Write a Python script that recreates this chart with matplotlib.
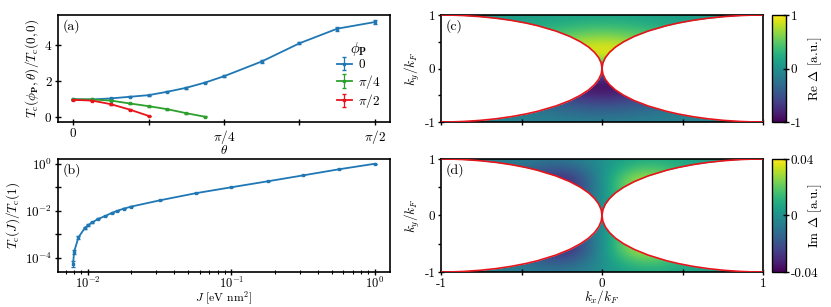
import numpy as np
import matplotlib
matplotlib.use("Agg")
import matplotlib.pyplot as plt
from matplotlib.ticker import NullLocator, LogLocator

plt.rcParams['font.family'] = 'cmr10'
plt.rcParams['mathtext.fontset'] = 'cm'
plt.rcParams['axes.unicode_minus'] = False
plt.rcParams['axes.formatter.use_mathtext'] = True
plt.rcParams['font.size'] = 9.5
plt.rcParams['axes.labelsize'] = 9.5
plt.rcParams['axes.linewidth'] = 1.2

# ---- panel (a): Tc vs theta ----
theta_0 = np.pi * np.array([0, 1, 2, 3, 4, 5, 6, 7, 8, 10, 12, 14, 16]) / 32
tc_0 = [1.0, 0.99, 1.05, 1.14, 1.23, 1.42, 1.64, 1.93, 2.28, 3.10, 4.11, 4.92, 5.29]
err_0 = [0.02, 0.02, 0.03, 0.03, 0.03, 0.04, 0.04, 0.05, 0.06, 0.08, 0.06, 0.1, 0.12]
theta_4 = np.pi * np.array([0, 1, 2, 3, 4, 5, 6, 7]) / 32
tc_4 = [1.0, 0.99, 0.93, 0.77, 0.62, 0.45, 0.23, 0.03]
err_4 = [0.02, 0.02, 0.02, 0.02, 0.02, 0.02, 0.02, 0.02]
theta_2 = np.pi * np.array([0, 1, 2, 3, 4]) / 32
tc_2 = [0.97, 0.93, 0.73, 0.43, 0.08]
err_2 = [0.02, 0.02, 0.02, 0.02, 0.02]

# ---- panel (b): Tc vs J ----
J = [0.00787, 0.0080, 0.00858, 0.00953, 0.0100, 0.0107, 0.0118, 0.0132, 0.0146,
     0.0160, 0.0178, 0.0200, 0.0319, 0.0566, 0.100, 0.180, 0.316, 0.560, 1.0]
tc_J = [5.6e-5, 1.8e-4, 7.4e-4, 1.9e-3, 2.4e-3, 3.2e-3, 4.5e-3, 6.0e-3, 8.0e-3,
        1.0e-2, 1.23e-2, 1.5e-2, 2.8e-2, 5.6e-2, 0.1, 0.18, 0.32, 0.58, 1.0]
err_J = [1.5e-5, 4e-5, 1e-4, 2e-4, 2e-4, 2e-4, 2e-4, 2e-4, 2e-4,
         2e-4, 3e-4, 3e-4, 4e-4, 6e-4, 1e-3, 2e-3, 3e-3, 5e-3, 8e-3]

# ---- panels (c), (d): gap on a coarse k grid ----
kx_grid = [-1, -0.75, -0.5, -0.25, 0, 0.25, 0.5, 0.75, 1]
ky_grid = [1, 0.8, 0.6, 0.4, 0.2, 0, -0.2, -0.4, -0.6, -0.8, -1]
re_gap = np.array([
    [0.08, 0.09, 0.10, 0.13, 0.16, 0.13, 0.10, 0.09, 0.08],
    [0.10, 0.12, 0.18, 0.28, 0.38, 0.28, 0.18, 0.12, 0.10],
    [0.13, 0.18, 0.30, 0.52, 0.68, 0.52, 0.30, 0.18, 0.13],
    [0.18, 0.26, 0.45, 0.80, 0.98, 0.80, 0.45, 0.26, 0.18],
    [0.14, 0.22, 0.40, 0.72, 0.90, 0.72, 0.40, 0.22, 0.14],
    [0.00, 0.00, 0.00, 0.00, 0.00, 0.00, 0.00, 0.00, 0.00],
    [-0.14, -0.22, -0.40, -0.72, -0.90, -0.72, -0.40, -0.22, -0.14],
    [-0.18, -0.26, -0.45, -0.80, -0.98, -0.80, -0.45, -0.26, -0.18],
    [-0.13, -0.18, -0.30, -0.52, -0.68, -0.52, -0.30, -0.18, -0.13],
    [-0.10, -0.12, -0.18, -0.28, -0.38, -0.28, -0.18, -0.12, -0.10],
    [-0.08, -0.09, -0.10, -0.13, -0.16, -0.13, -0.10, -0.09, -0.08],
])
im_gap = np.array([
    [-0.003, -0.004, -0.006, -0.009, 0, 0.009, 0.006, 0.004, 0.003],
    [-0.004, -0.006, -0.010, -0.024, 0, 0.024, 0.010, 0.006, 0.004],
    [-0.005, -0.008, -0.015, -0.042, 0, 0.042, 0.015, 0.008, 0.005],
    [-0.005, -0.008, -0.015, -0.040, 0, 0.040, 0.015, 0.008, 0.005],
    [-0.004, -0.007, -0.012, -0.030, 0, 0.030, 0.012, 0.007, 0.004],
    [-0.003, -0.006, -0.010, -0.020, 0, 0.020, 0.010, 0.006, 0.003],
    [-0.004, -0.007, -0.012, -0.030, 0, 0.030, 0.012, 0.007, 0.004],
    [-0.005, -0.008, -0.015, -0.040, 0, 0.040, 0.015, 0.008, 0.005],
    [-0.005, -0.008, -0.015, -0.042, 0, 0.042, 0.015, 0.008, 0.005],
    [-0.004, -0.006, -0.010, -0.024, 0, 0.024, 0.010, 0.006, 0.004],
    [-0.003, -0.004, -0.006, -0.009, 0, 0.009, 0.006, 0.004, 0.003],
])

# Fermi surface edge of the right pocket (upper half)
fs_ky = [0, 0.1, 0.2, 0.3, 0.4, 0.5, 0.6, 0.7, 0.8, 0.85, 0.9, 0.94, 0.97, 0.99, 0.997, 1.0]
fs_kx = [0, 0.005, 0.02, 0.046, 0.083, 0.134, 0.2, 0.286, 0.4, 0.473, 0.564,
         0.659, 0.757, 0.859, 0.923, 1.0]

blue, green, red = '#1f77b4', '#2ca02c', '#e8141c'
tick_kw = dict(direction='inout', length=5, width=1.0, pad=1.5)

fig = plt.figure(figsize=(8.31, 3.07), dpi=100)
ax_a = fig.add_axes([0.0698, 0.6026, 0.3995, 0.3485])
ax_b = fig.add_axes([0.0698, 0.1140, 0.3995, 0.3697])
ax_c = fig.add_axes([0.5307, 0.6026, 0.3875, 0.3485])
ax_d = fig.add_axes([0.5307, 0.1140, 0.3875, 0.3681])
cax_c = fig.add_axes([0.929, 0.6026, 0.0168, 0.3485])
cax_d = fig.add_axes([0.929, 0.1140, 0.0168, 0.3681])

# (a)
eb = dict(marker='s', ms=1.8, lw=1.3, capsize=1.6, elinewidth=0.9)
ax_a.errorbar(theta_0, tc_0, yerr=err_0, color=blue, label='0', **eb)
ax_a.errorbar(theta_4, tc_4, yerr=err_4, color=green, label=r'$\pi/4$', **eb)
ax_a.errorbar(theta_2, tc_2, yerr=err_2, color=red, label=r'$\pi/2$', **eb)
ax_a.set_xticks(np.pi * np.array([0, 1, 2, 3, 4]) / 8)
ax_a.set_xticklabels(['0', '', r'$\pi/4$', '', r'$\pi/2$'])
ax_a.set_yticks([0, 2, 4])
ax_a.set_xlabel(r'$\theta$', labelpad=-1)
ax_a.set_ylabel(r'$T_{\rm c}(\phi_{\mathbf{P}},\theta)/T_{\rm c}(0,0)$', labelpad=2)
ax_a.tick_params(**tick_kw)
leg = ax_a.legend(title=r'$\phi_{\mathbf{P}}$', frameon=False, loc='center right',
                  bbox_to_anchor=(1.0, 0.44), handlelength=1.1, handletextpad=0.5,
                  labelspacing=0.1, borderpad=0.2, fontsize=9.5)
leg.get_title().set_fontsize(10.5)
ax_a.text(0.015, 0.96, '(a)', transform=ax_a.transAxes, va='top', ha='left', fontsize=10)

# (b)
ax_b.errorbar(J, tc_J, yerr=err_J, color=blue, **eb)
ax_b.set_xscale('log')
ax_b.set_yscale('log')
ax_b.set_yticks([1e-4, 1e-3, 1e-2, 1e-1, 1])
ax_b.set_yticklabels([r'$10^{-4}$', '', r'$10^{-2}$', '', r'$10^{0}$'])
ax_b.yaxis.set_minor_locator(NullLocator())
ax_b.set_xticks([1e-2, 1e-1, 1])
ax_b.set_xticklabels([r'$10^{-2}$', r'$10^{-1}$', r'$10^{0}$'])
ax_b.xaxis.set_minor_locator(LogLocator(subs=np.arange(2, 10), numticks=10))
ax_b.set_xlabel(r'$J$ [eV nm$^2$]', fontsize=8.5)
ax_b.xaxis.label.set_va('bottom')
ax_b.xaxis.set_label_coords(0.5, -0.305)
ax_b.set_ylabel(r'$T_{\rm c}(J)/T_{\rm c}(1)$', labelpad=2)
ax_b.tick_params(which='major', **tick_kw)
ax_b.tick_params(axis='x', which='major', pad=0, labelsize=9)
ax_b.tick_params(which='minor', direction='inout', length=3, width=0.8)
ax_b.text(0.015, 0.96, '(b)', transform=ax_b.transAxes, va='top', ha='left', fontsize=10)

# (c), (d)
fs_y = np.concatenate([-np.array(fs_ky[::-1]), np.array(fs_ky[1:])])
fs_x = np.concatenate([np.array(fs_kx[::-1]), np.array(fs_kx[1:])])
dx = (kx_grid[1] - kx_grid[0]) / 2
dy = (ky_grid[0] - ky_grid[1]) / 2
ext = [kx_grid[0] - dx, kx_grid[-1] + dx, ky_grid[-1] - dy, ky_grid[0] + dy]

panels = [(ax_c, cax_c, re_gap, 1.0, ['-1', '0', '1'], r'Re $\Delta$ [a.u.]', '(c)'),
          (ax_d, cax_d, im_gap, 0.04, ['-0.04', '0', '0.04'], r'Im $\Delta$ [a.u.]', '(d)')]
for ax, cax, grid, vm, cl, clab, tag in panels:
    im = ax.imshow(grid, extent=ext, origin='upper', cmap='viridis', vmin=-vm, vmax=vm,
                   interpolation='bicubic', aspect='auto', zorder=1)
    ax.fill_betweenx(fs_y, fs_x, 1.2, color='white', lw=0, zorder=2)
    ax.fill_betweenx(fs_y, -1.2, -fs_x, color='white', lw=0, zorder=2)
    ax.plot(fs_x, fs_y, color=red, lw=1.2, zorder=3)
    ax.plot(-fs_x, fs_y, color=red, lw=1.2, zorder=3)
    ax.set_xlim(-1, 1)
    ax.set_ylim(-1, 1)
    ax.set_xticks([-1, -0.5, 0, 0.5, 1])
    ax.set_yticks([-1, -0.5, 0, 0.5, 1])
    ax.set_yticklabels(['-1', '', '0', '', '1'])
    ax.set_ylabel(r'$k_y/k_F$', labelpad=2)
    ax.tick_params(**tick_kw)
    ax.text(0.015, 0.96, tag, transform=ax.transAxes, va='top', ha='left', fontsize=10)
    cb = fig.colorbar(im, cax=cax)
    cb.set_ticks([-vm, 0, vm])
    cb.set_ticklabels(cl)
    cb.set_label(clab)
    cax.yaxis.set_label_coords(2.5, 0.5)
    cb.outline.set_linewidth(1.0)
    cax.tick_params(direction='inout', length=5, width=1.0, pad=1)

ax_c.set_xticklabels([])
ax_d.set_xticklabels(['-1', '', '0', '', '1'])
ax_d.set_xlabel(r'$k_x/k_F$', labelpad=-1)

fig.savefig('out.png', dpi=100)
